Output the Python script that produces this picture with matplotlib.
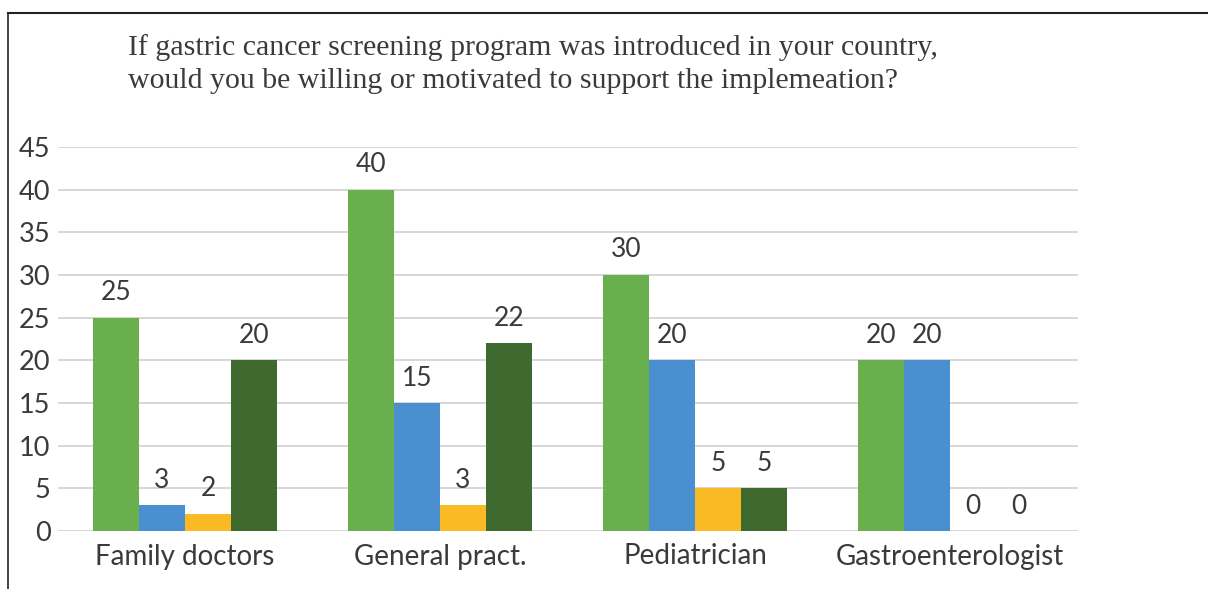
import numpy as np
import matplotlib.pyplot as plt

categories = ["Family doctors", "General pract.", "Pediatrician", "Gastroenterologist"]
series_a = [25, 40, 30, 20]
series_b = [3, 15, 20, 20]
series_c = [2, 3, 5, 0]
series_d = [20, 22, 5, 0]

colors = ["#6aaf4e", "#4a90d0", "#f9ba23", "#3e6a30"]
title = ("If gastric cancer screening program was introduced in your country,\n"
         "would you be willing or motivated to support the implemeation?")

fig = plt.figure(figsize=(12.08, 5.89), dpi=100)
ax = fig.add_axes([57.5 / 1208, (589 - 531) / 589, 1020 / 1208, 384 / 589])

x = np.arange(len(categories))
width = 0.18
for i, (vals, col) in enumerate(zip([series_a, series_b, series_c, series_d], colors)):
    pos = x + (i - 1.5) * width
    ax.bar(pos, vals, width, color=col, zorder=3)
    for px, v in zip(pos, vals):
        ax.annotate(str(v), (px, v), xytext=(0, 9), textcoords="offset points",
                    ha="center", va="bottom", fontsize=19, color="#3a3a3a",
                    family="Lato")

ax.set_xlim(-0.5, 3.5)
ax.set_ylim(0, 45)
ax.set_yticks(range(0, 50, 5))
ax.yaxis.grid(True, color="#d4d4d4", linewidth=1.3, zorder=0)
ax.set_xticks(x)
ax.set_xticklabels(categories)
ax.tick_params(length=0, labelsize=20, colors="#3a3a3a", pad=9)
ax.tick_params(axis="y", labelsize=19.5, pad=5)
for lab in ax.get_xticklabels() + ax.get_yticklabels():
    lab.set_family("Lato")
for s in ax.spines.values():
    s.set_visible(False)

fig.text(128 / 1208, 1 - 34 / 589, title, ha="left", va="top", fontsize=21.5,
         family="Liberation Serif", color="#3a3a3a", linespacing=1.33)

# frame lines on top and left
fig.add_artist(plt.Line2D([8 / 1208, 1], [1 - 13 / 589] * 2, color="#222222", lw=1.5))
fig.add_artist(plt.Line2D([8 / 1208] * 2, [0, 1 - 13 / 589], color="#222222", lw=1.2))

fig.savefig("out.png", dpi=100)
